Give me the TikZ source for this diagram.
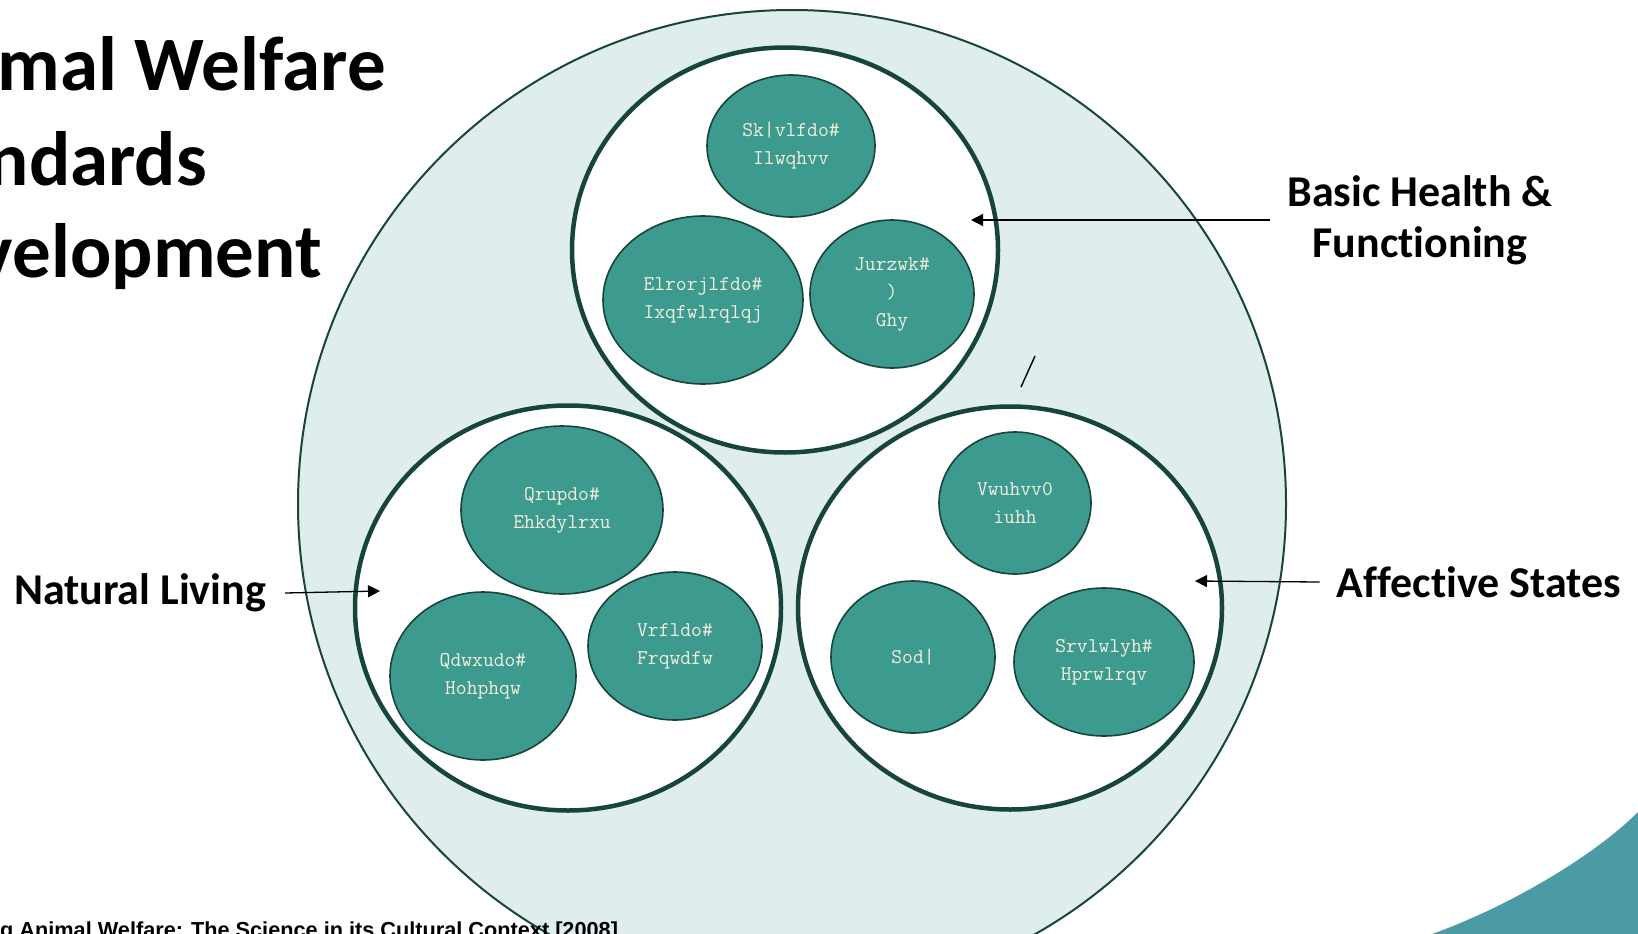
\documentclass[tikz,border=0pt]{standalone}
\usepackage{fontspec}
\setmainfont{Carlito}[Ligatures={NoCommon}]
\newfontfamily\srcfont{Liberation Sans}
\usepackage{tikz}
\usetikzlibrary{shapes.geometric, arrows.meta}

\definecolor{pine}{HTML}{17443B}
\definecolor{mist}{HTML}{DFEDEC}
\definecolor{jade}{HTML}{3D9A8E}
\definecolor{cream}{HTML}{F2EEDC}
\definecolor{lagoon}{HTML}{4A9BA3}

\tikzset{
  ring/.style={ellipse, draw=pine, line width=4.5pt, fill=white, inner sep=0pt},
  blob/.style={ellipse, draw=pine, line width=1.6pt, fill=jade, inner sep=0pt,
    text=cream, align=center, font=\ttfamily\fontsize{21}{28}\selectfont},
  heading/.style={font=\bfseries\fontsize{44}{51}\selectfont, align=center},
  pointer/.style={-{Triangle[length=12pt,width=12pt]}, line width=1.3pt},
}

\begin{document}
\begin{tikzpicture}[x=1pt, y=-1pt]
\useasboundingbox (0,0) rectangle (1638,934);

% corner swoosh
\fill[lagoon] (1432,934) .. controls (1500,910) and (1590,860) .. (1638,812) -- (1638,934) -- cycle;

% big disc holding the three groups
\node[circle, draw=pine, line width=2pt, fill=mist, minimum size=988pt, inner sep=0pt] (welfare) at (792,504) {};

\node[ring, minimum width=426pt, minimum height=405pt] (health) at (785,250) {};
\node[ring, minimum width=426pt, minimum height=405pt] (natural) at (568,608) {};
\node[ring, minimum width=424pt, minimum height=403pt] (affect) at (1010,608) {};

% health group
\node[blob, minimum width=168pt, minimum height=142pt] (phys) at (791,146) {Sk|vlfdo\#\\Ilwqhvv};
\node[blob, minimum width=200pt, minimum height=168pt] (bio) at (703,300) {Elrorjlfdo\#\\Ixqfwlrqlqj};
\node[blob, minimum width=164pt, minimum height=148pt] (grow) at (892,294) {Jurzwk\#\\)\\Ghy};

% natural living group
\node[blob, minimum width=202pt, minimum height=168pt] (norm) at (562,510) {Qrupdo\#\\Ehkdylrxu};
\node[blob, minimum width=174pt, minimum height=148pt] (social) at (675,646) {Vrfldo\#\\Frqwdfw};
\node[blob, minimum width=186pt, minimum height=168pt] (element) at (483,676) {Qdwxudo\#\\Hohphqw};

% affective group
\node[blob, minimum width=152pt, minimum height=142pt] (stress) at (1015,503) {Vwuhvv0\\iuhh};
\node[blob, minimum width=164pt, minimum height=152pt] (play) at (913,657) {Sod|};
\node[blob, minimum width=180pt, minimum height=148pt] (emot) at (1104,662) {Srvlwlyh\#\\Hprwlrqv};

% labels and pointers
\node[heading, inner sep=17pt] (bhf) at (1420,220) {Basic Health \&\\Functioning};
\node[heading, inner sep=19pt] (nl) at (140,593) {Natural Living};
\node[heading, inner sep=17pt] (as) at (1479,582) {Affective States};

\coordinate (bhfTip) at (971,220);
\coordinate (nlTip) at (380,591);
\coordinate (asTip) at (1195,581);
\draw[pointer] (bhf.west) -- (bhfTip);
\draw[pointer] (nl.east) -- (nlTip);
\draw[pointer] (as.west) -- (asTip);

% stray tick
\coordinate (tickA) at (1021,387);
\coordinate (tickB) at (1035,356);
\draw[line width=1.4pt] (tickA) -- (tickB);

% title
\begin{scope}[every node/.style={anchor=base east, inner sep=0pt, font=\bfseries\fontsize{77}{94}\selectfont}]
  \node (t1) at (386,90) {mal Welfare};
  \node (t2) at (207,185) {ndards};
  \node (t3) at (322,277) {velopment};
\end{scope}

\node[anchor=base west, inner sep=0pt, font=\srcfont\bfseries\fontsize{21.7}{24}\selectfont] (src) at (0,937)
  {g Animal Welfare: The Science in its Cultural Context [2008]};
\end{tikzpicture}
\end{document}
